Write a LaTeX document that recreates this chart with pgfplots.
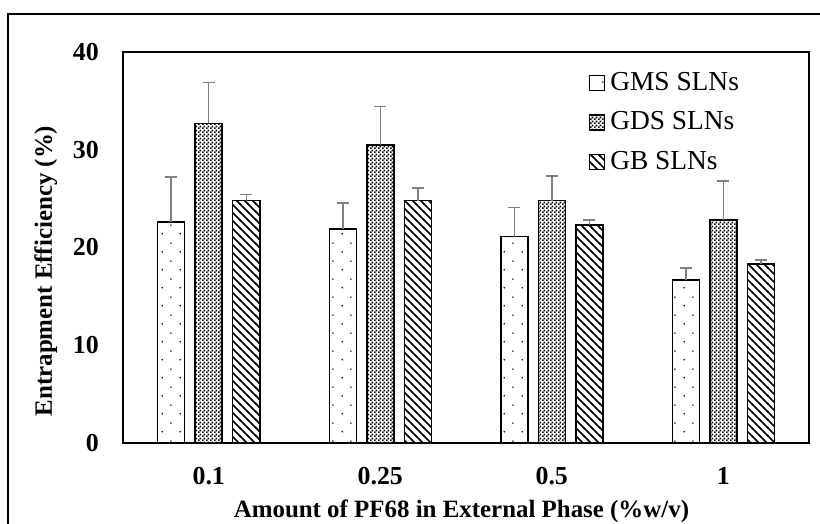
\documentclass[border=0pt]{standalone}
\usepackage{fontspec}
\setmainfont{Liberation Serif}
\usepackage{pgfplots}
\pgfplotsset{compat=1.18}
\usetikzlibrary{patterns.meta}

\tikzdeclarepattern{
  name=gmsdots,
  bounding box={(0bp,0bp) and (17.6bp,17.5bp)},
  tile size={(17.6bp,17.5bp)},
  code={
    \fill[black!55] (4.4bp,4.4bp) circle (0.9bp);
    \fill[black!55] (12.4bp,12.8bp) rectangle (14bp,13.6bp);
  }
}
\tikzdeclarepattern{
  name=checker,
  bounding box={(0bp,0bp) and (3.6bp,3.6bp)},
  tile size={(3.6bp,3.6bp)},
  code={
    \fill[black!70] (0bp,0bp) rectangle (1.8bp,1.8bp);
    \fill[black!70] (1.8bp,1.8bp) rectangle (3.6bp,3.6bp);
  }
}
\tikzdeclarepattern{
  name=nwlines,
  bounding box={(-1bp,-1bp) and (9bp,9bp)},
  tile size={(8bp,8bp)},
  code={
    \draw[black!55, line width=1.5bp] (-1bp,9bp) -- (9bp,-1bp);
  }
}

\pgfplotsset{
  sqlegend/.style={legend image code/.code={\draw[##1, line width=1.3bp] (0bp,0bp) rectangle (15bp,15bp);}},
  myerr/.style={error bars/.cd, y dir=plus, y explicit,
    error bar style={line width=1.5bp, draw=black!50},
    error mark options={rotate=90, mark size=6bp, line width=1.5bp, draw=black!50}},
}

\pgfplotstableread{
x y e
0 22.6 4.6
1 21.9 2.65
2 21.1 3.0
3 16.7 1.2
}\gms
\pgfplotstableread{
x y e
0 32.7 4.2
1 30.5 3.9
2 24.8 2.5
3 22.8 4.0
}\gds
\pgfplotstableread{
x y e
0 24.8 0.6
1 24.8 1.3
2 22.3 0.5
3 18.3 0.4
}\gb

\begin{document}
\begin{tikzpicture}
\useasboundingbox (-123bp,-81bp) rectangle (697bp,443bp);
\draw[line width=1.5bp] (-115bp,-100bp) -- (-115bp,429bp) -- (720bp,429bp);
\begin{axis}[
  at={(0,0)}, anchor=south west,
  scale only axis, width=686bp, height=391bp,
  ymin=0, ymax=40, ytick={0,10,20,30,40},
  xmin=-0.5, xmax=3.5, xtick={0,1,2,3}, xticklabels={0.1,0.25,0.5,1},
  major tick length=0pt,
  axis line style={line width=1.5bp},
  /pgf/number format/assume math mode=true,
  ticklabel style={font=\bfseries\fontsize{26}{26}\selectfont, inner sep=0pt},
  yticklabel style={anchor=east, xshift=-24bp},
  xticklabel style={anchor=base, yshift=-41bp},
  xlabel={Amount of PF68 in External Phase (\%w/v)},
  ylabel={Entrapment Efficiency (\%)},
  label style={font=\bfseries\fontsize{25}{25}\selectfont, inner sep=0pt},
  xlabel style={at={(axis description cs:0.4934,0)}, anchor=base, yshift=-74bp},
  ylabel style={at={(axis description cs:-0.1035,0.44)}, anchor=base},
  ybar, bar width=27bp,
  legend style={at={(axis description cs:0.679,0.9488)}, anchor=north west,
    draw=none, fill=none, inner sep=0pt,
    font=\fontsize{27.5}{27.5}\selectfont,
    nodes={inner sep=0pt, text height=18bp, text depth=0bp, anchor=base west},
    row sep=21bp, column sep=5bp},
  legend cell align=left,
]
\addplot[draw=black, line width=1.5bp, fill=white, pattern=gmsdots, bar shift=-37.5bp, sqlegend, myerr]
  table[x=x, y=y, y error=e] {\gms};
\addlegendentry{GMS SLNs}
\addplot[draw=black, line width=1.5bp, fill=white, pattern=checker, bar shift=0bp, sqlegend, myerr]
  table[x=x, y=y, y error=e] {\gds};
\addlegendentry{GDS SLNs}
\addplot[draw=black, line width=1.5bp, fill=white, pattern=nwlines, bar shift=37.5bp, sqlegend, myerr]
  table[x=x, y=y, y error=e] {\gb};
\addlegendentry{GB SLNs}
\end{axis}
\end{tikzpicture}
\end{document}
